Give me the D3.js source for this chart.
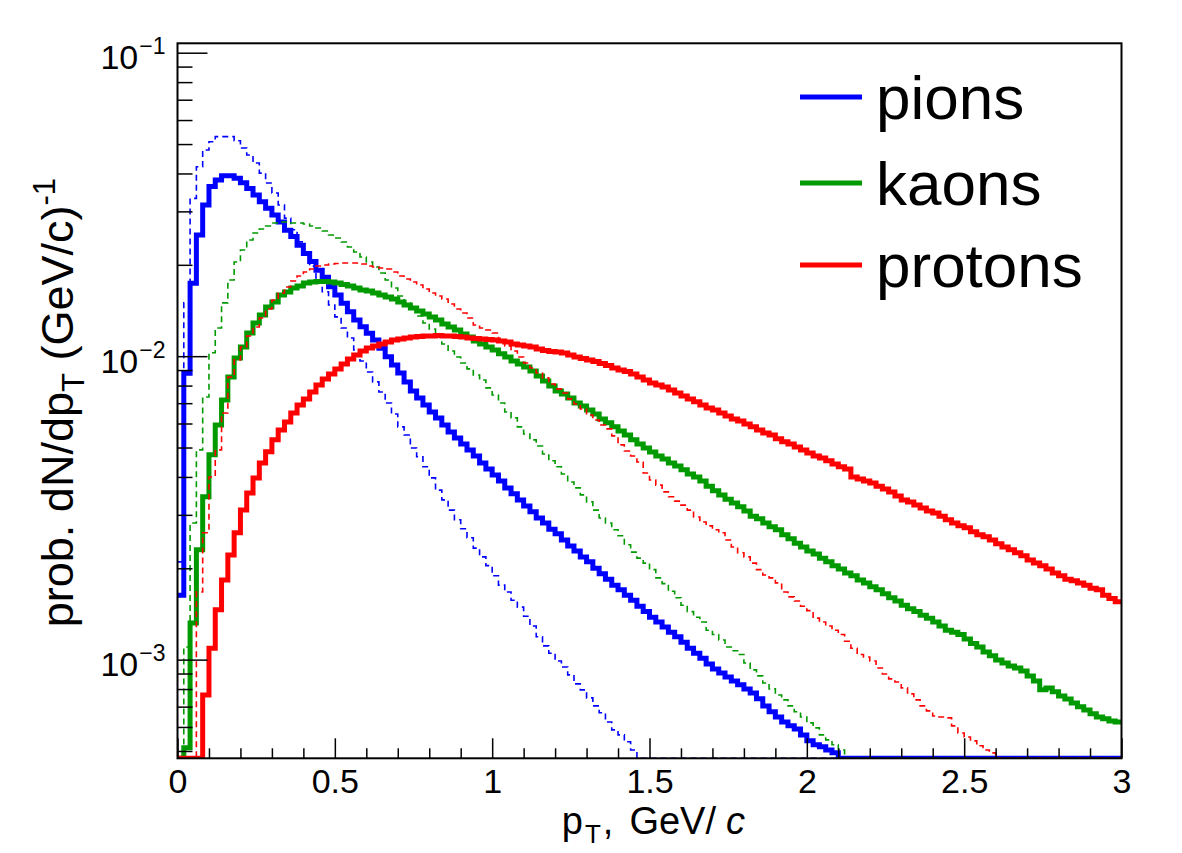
<!DOCTYPE html>
<html><head><meta charset="utf-8">
<script src="https://cdn.jsdelivr.net/npm/d3@7"></script>
<style>
body{margin:0;background:#fff}
svg{display:block}
text{font-family:"Liberation Sans",Arial,Helvetica,sans-serif;fill:#000}
</style>
</head><body>
<svg id="chart" width="1182" height="853"></svg>
<script>
// ---------------- data (histograms, 150 bins of 0.02 GeV/c from 0 to 3) ----------------
const ptRange = [0, 3];
const pionsSolid = [
0.00163,0.00878,0.01739,0.02507,0.0315,0.0362,0.0381,0.0393,0.0393,0.0386,
0.0373,0.0357,0.0340,0.0323,0.0307,0.0292,0.0277,0.0260,0.0248,0.0232,
0.0218,0.0205,0.0192,0.0182,0.01694,0.0159,0.01493,0.01402,0.01315,0.0125,
0.01189,0.0113,0.01062,0.00996,0.00935,0.00880,0.00822,0.00768,0.00728,0.00691,
0.00655,0.00626,0.00593,0.00563,0.00537,0.00514,0.00491,0.00469,0.00445,0.00425,
0.00406,0.00388,0.00368,0.00352,0.00336,0.00321,0.00307,0.00293,0.00282,0.00269,
0.00260,0.00248,0.00237,0.00228,0.00218,0.00210,0.00200,0.00192,0.00184,0.00176,
0.00170,0.00163,0.00157,0.00150,0.00144,0.00138,0.00133,0.00128,0.00123,0.00119,
0.00114,0.00109,0.00105,0.00101,0.000968,0.000932,0.000904,0.000877,0.000851,0.000826,
0.000801,0.000777,0.000743,0.000704,0.000673,0.000647,0.000623,0.000605,0.000591,0.000565,
0.000540,0.000524,0.000516,0.000504,0.000493,0,0,0,0,0,
0,0,0,0,0,0,0,0,0,0,
0,0,0,0,0,0,0,0,0,0,
0,0,0,0,0,0,0,0,0,0,
0,0,0,0,0,0,0,0,0,0
];
const pionsDashed = [
0.0021,0.0150,0.0331,0.0421,0.0478,0.0509,0.0529,0.0529,0.0529,0.0513,
0.0485,0.0460,0.0433,0.0401,0.0372,0.0345,0.0315,0.0285,0.0261,0.0238,
0.0217,0.0198,0.0181,0.0163,0.01475,0.01347,0.01238,0.01148,0.01048,0.00964,
0.00887,0.00823,0.00762,0.00701,0.00645,0.00585,0.00550,0.00498,0.00466,0.00432,
0.00397,0.00362,0.00336,0.00311,0.00289,0.00270,0.00252,0.00233,0.00218,0.00204,
0.00189,0.00176,0.00167,0.00157,0.00149,0.00139,0.00129,0.00119,0.00111,0.00105,
0.00099,0.000946,0.000891,0.000832,0.000795,0.000748,0.000704,0.000668,0.000623,0.000587,
0.000565,0.000536,0.000504,0,0,0,0,0,0,0,
0,0,0,0,0,0,0,0,0,0,
0,0,0,0,0,0,0,0,0,0,
0,0,0,0,0,0,0,0,0,0,
0,0,0,0,0,0,0,0,0,0,
0,0,0,0,0,0,0,0,0,0,
0,0,0,0,0,0,0,0,0,0,
0,0,0,0,0,0,0,0,0,0
];
const kaonsSolid = [
0,0.000512,0.00132,0.00230,0.00344,0.00473,0.00593,0.00717,0.00854,0.00986,
0.01073,0.01192,0.01286,0.01367,0.01453,0.01509,0.01591,0.01628,0.01678,0.01704,
0.01743,0.01756,0.01763,0.01763,0.01756,0.01743,0.01723,0.01704,0.01678,0.01653,
0.01640,0.01615,0.01591,0.01567,0.01543,0.01509,0.01475,0.01442,0.01409,0.01377,
0.01347,0.01316,0.01276,0.01248,0.01219,0.01183,0.01157,0.01122,0.01097,0.01073,
0.01048,0.01018,0.00994,0.00964,0.00943,0.00921,0.00894,0.00860,0.00829,0.00797,
0.00768,0.00751,0.00728,0.00701,0.00685,0.00665,0.00645,0.00621,0.00603,0.00585,
0.00567,0.00550,0.00530,0.00514,0.00498,0.00483,0.00469,0.00458,0.00445,0.00435,
0.00422,0.00409,0.00400,0.00388,0.00373,0.00360,0.00349,0.00338,0.00328,0.00319,
0.00309,0.00297,0.00291,0.00282,0.00274,0.00268,0.00258,0.00250,0.00242,0.00235,
0.00228,0.00223,0.00216,0.00210,0.00204,0.00199,0.00193,0.00189,0.00183,0.00179,
0.00174,0.00170,0.00165,0.00160,0.00156,0.00151,0.00147,0.00144,0.00140,0.00137,
0.00133,0.00129,0.00125,0.00123,0.00121,0.00117,0.00113,0.00110,0.00106,0.00103,
0.000998,0.000975,0.000953,0.000939,0.000918,0.000884,0.000851,0.000795,0.000807,0.000783,
0.000759,0.000742,0.000720,0.000699,0.000683,0.000663,0.000647,0.000638,0.000628,0.000623
];
const kaonsDashed = [
0,0.00110,0.00282,0.00491,0.00734,0.01026,0.01238,0.01498,0.01782,0.02044,
0.02238,0.02414,0.02546,0.02625,0.02686,0.02748,0.02769,0.02769,0.02748,0.02748,
0.02727,0.02686,0.02646,0.02586,0.02508,0.02451,0.02378,0.02290,0.02205,0.02123,
0.02044,0.01968,0.01880,0.01782,0.01678,0.01579,0.01498,0.01431,0.01357,0.01286,
0.01229,0.01165,0.01097,0.01040,0.00994,0.00950,0.00908,0.00867,0.00835,0.00786,
0.00745,0.00701,0.00655,0.00626,0.00585,0.00554,0.00530,0.00506,0.00476,0.00452,
0.00432,0.00409,0.00385,0.00368,0.00349,0.00331,0.00311,0.00293,0.00282,0.00268,
0.00256,0.00239,0.00226,0.00216,0.00208,0.00198,0.00186,0.00178,0.00168,0.00160,
0.00151,0.00144,0.00138,0.00133,0.00125,0.00121,0.00116,0.00110,0.00107,0.00104,
0.000975,0.000925,0.000884,0.000838,0.000801,0.000765,0.000737,0.000704,0.000673,0.000647,
0.000619,0.000596,0.000565,0.000544,0.000524,0.000504,0,0,0,0,
0,0,0,0,0,0,0,0,0,0,
0,0,0,0,0,0,0,0,0,0,
0,0,0,0,0,0,0,0,0,0,
0,0,0,0,0,0,0,0,0,0
];
const protonsSolid = [
0,0,0,0,0.000765,0.00109,0.00146,0.00183,0.00221,0.00262,
0.00311,0.00354,0.00397,0.00445,0.00484,0.00530,0.00571,0.00607,0.00650,0.00691,
0.00723,0.00762,0.00804,0.00841,0.00874,0.00908,0.00943,0.00979,0.01009,0.01040,
0.01064,0.01080,0.01097,0.01114,0.01131,0.01139,0.01148,0.01157,0.01161,0.01166,
0.01166,0.01170,0.01166,0.01166,0.01161,0.01157,0.01148,0.01144,0.01139,0.01135,
0.01131,0.01122,0.01114,0.01097,0.01089,0.01080,0.01072,0.01056,0.01044,0.01036,
0.01032,0.01025,0.01009,0.00994,0.00983,0.00972,0.00961,0.00946,0.00932,0.00914,
0.00901,0.00891,0.00874,0.00854,0.00835,0.00816,0.00804,0.00792,0.00774,0.00756,
0.00739,0.00723,0.00707,0.00691,0.00675,0.00665,0.00650,0.00635,0.00621,0.00612,
0.00598,0.00585,0.00571,0.00558,0.00550,0.00534,0.00522,0.00514,0.00502,0.00491,
0.00480,0.00469,0.00462,0.00452,0.00441,0.00432,0.00425,0.00400,0.00394,0.00388,
0.00382,0.00373,0.00365,0.00357,0.00346,0.00336,0.00331,0.00323,0.00316,0.00309,
0.00304,0.00297,0.00289,0.00282,0.00276,0.00272,0.00264,0.00258,0.00254,0.00248,
0.00241,0.00235,0.00230,0.00225,0.00220,0.00213,0.00208,0.00204,0.00199,0.00193,
0.00189,0.00184,0.00182,0.00179,0.00176,0.00172,0.00170,0.00163,0.00159,0.00155
];
const protonsDashed = [
0,0,0,0.00167,0.00262,0.00400,0.00491,0.00650,0.00854,0.00972,
0.01072,0.01166,0.01248,0.01336,0.01431,0.01532,0.01615,0.01691,0.01769,0.01837,
0.01895,0.01938,0.01983,0.01998,0.02013,0.02020,0.02028,0.02028,0.02028,0.02013,
0.01983,0.01968,0.01953,0.01938,0.01895,0.01837,0.01796,0.01756,0.01717,0.01665,
0.01615,0.01579,0.01543,0.01486,0.01431,0.01388,0.01336,0.01267,0.01238,0.01219,
0.01192,0.01130,0.01080,0.01040,0.00994,0.00950,0.00914,0.00880,0.00848,0.00810,
0.00780,0.00756,0.00723,0.00696,0.00670,0.00640,0.00616,0.00593,0.00576,0.00546,
0.00510,0.00487,0.00469,0.00448,0.00412,0.00391,0.00376,0.00357,0.00344,0.00333,
0.00323,0.00311,0.00295,0.00284,0.00276,0.00268,0.00262,0.00248,0.00235,0.00225,
0.00218,0.00208,0.00198,0.00190,0.00186,0.00179,0.00167,0.00161,0.00156,0.00150,
0.00145,0.00137,0.00133,0.00129,0.00125,0.00121,0.00115,0.00109,0.00104,0.00102,
0.000990,0.000939,0.000897,0.000864,0.000844,0.000807,0.000771,0.000737,0.000704,0.000678,
0.000652,0.000647,0.000643,0.000605,0.000573,0.000556,0.000540,0.000520,0.000504,0.000493,
0,0,0,0,0,0,0,0,0,0,
0,0,0,0,0,0,0,0,0,0
];
const legendLabels = ["pions", "kaons", "protons"];
const xTickValues = [0, 0.5, 1, 1.5, 2, 2.5, 3];
const xTickLabels = ["0", "0.5", "1", "1.5", "2", "2.5", "3"];
const yDecadeExponents = [-1, -2, -3];
const yRange = [4.73e-4, 0.1074];

// ---------------- drawing ----------------
const svg = d3.select("#chart");
const frame = {left: 177.5, right: 1121.5, top: 43.3, bottom: 758.3};
const colors = {pions: "#0000ff", kaons: "#009900", protons: "#ff0000"};

const x = d3.scaleLinear().domain(ptRange).range([frame.left, frame.right]);
const y = d3.scaleLog().domain(yRange).range([frame.bottom, frame.top]);

svg.append("rect").attr("width", 1182).attr("height", 853).attr("fill", "#fff");

svg.append("defs").append("clipPath").attr("id", "plotclip")
  .append("rect").attr("x", frame.left).attr("y", frame.top)
  .attr("width", frame.right - frame.left).attr("height", frame.bottom - frame.top);

function stepPoints(vals) {
  const w = (ptRange[1] - ptRange[0]) / vals.length;
  const pts = [];
  vals.forEach((v, i) => {
    const yy = y(Math.max(v, yRange[0]));
    pts.push([x(ptRange[0] + i * w), yy], [x(ptRange[0] + (i + 1) * w), yy]);
  });
  return pts;
}
const line = d3.line();

const series = [
  {vals: pionsSolid, color: colors.pions, dashed: false},
  {vals: pionsDashed, color: colors.pions, dashed: true},
  {vals: kaonsSolid, color: colors.kaons, dashed: false},
  {vals: kaonsDashed, color: colors.kaons, dashed: true},
  {vals: protonsSolid, color: colors.protons, dashed: false},
  {vals: protonsDashed, color: colors.protons, dashed: true}
];
const g = svg.append("g").attr("clip-path", "url(#plotclip)");
series.forEach(s => {
  g.append("path")
    .attr("d", line(stepPoints(s.vals)))
    .attr("fill", "none")
    .attr("stroke", s.color)
    .attr("stroke-width", s.dashed ? 1.6 : 5)
    .attr("stroke-linejoin", "miter")
    .attr("stroke-dasharray", s.dashed ? "6,4" : null);
});

// x axis (ticks point inward)
const xMinor = d3.range(0, 31).map(i => i / 10).filter(v => !xTickValues.some(t => Math.abs(t - v) < 1e-6));
svg.append("g").attr("transform", `translate(0,${frame.bottom})`)
  .call(d3.axisBottom(x).tickValues(xMinor).tickSize(-10).tickFormat(""))
  .call(a => a.select(".domain").remove())
  .call(a => a.selectAll("line").attr("stroke", "#000").attr("stroke-width", 1.5));
const xAx = svg.append("g").attr("transform", `translate(0,${frame.bottom})`)
  .call(d3.axisBottom(x).tickValues(xTickValues).tickSize(-20).tickPadding(11)
        .tickFormat((d, i) => xTickLabels[i]))
  .call(a => a.select(".domain").remove());
xAx.selectAll("line").attr("stroke", "#000").attr("stroke-width", 1.5);
xAx.selectAll("text").attr("font-size", 34).attr("font-family", '"Liberation Sans",Arial,sans-serif').attr("fill", "#000");

// y axis
const yMajor = yDecadeExponents.map(e => Math.pow(10, e));
const yMinor = [];
[-4, -3, -2, -1].forEach(e => { for (let m = 2; m <= 9; m++) { const v = m * Math.pow(10, e); if (v >= yRange[0] && v <= yRange[1]) yMinor.push(v); } });
svg.append("g").attr("transform", `translate(${frame.left},0)`)
  .call(d3.axisLeft(y).tickValues(yMinor).tickSize(-15).tickFormat(""))
  .call(a => a.select(".domain").remove())
  .call(a => a.selectAll("line").attr("stroke", "#000").attr("stroke-width", 1.5));
const yAx = svg.append("g").attr("transform", `translate(${frame.left},0)`)
  .call(d3.axisLeft(y).tickValues(yMajor).tickSize(-30).tickPadding(12).tickFormat(""))
  .call(a => a.select(".domain").remove());
yAx.selectAll("line").attr("stroke", "#000").attr("stroke-width", 1.5);
yAx.selectAll(".tick text").each(function(d, i) {
  const t = d3.select(this).attr("dy", null).attr("y", 16).attr("font-size", 34).attr("fill", "#000")
    .attr("font-family", '"Liberation Sans",Arial,sans-serif');
  t.append("tspan").text("10");
  t.append("tspan").attr("font-size", 23).attr("dx", 1).attr("dy", -15).text("\u2212" + Math.abs(yDecadeExponents[i]));
});

// frame
svg.append("rect").attr("x", frame.left).attr("y", frame.top)
  .attr("width", frame.right - frame.left).attr("height", frame.bottom - frame.top)
  .attr("fill", "none").attr("stroke", "#000").attr("stroke-width", 2);

// axis titles
const xt = svg.append("text").attr("x", 745).attr("y", 834).attr("text-anchor", "end").attr("font-size", 38);
xt.append("tspan").text("p");
xt.append("tspan").attr("font-size", 26).attr("dy", 9).attr("dx", 2).text("T");
xt.append("tspan").attr("dy", -9).attr("dx", 2).text(",");
xt.append("tspan").attr("dx", 16).text("GeV/");
xt.append("tspan").attr("font-style", "italic").attr("dx", 10).text("c");

const yt = svg.append("text").attr("transform", "translate(73,178) rotate(-90)")
  .attr("text-anchor", "end").attr("font-size", 45);
yt.append("tspan").text("prob. dN/dp");
yt.append("tspan").attr("font-size", 31).attr("dy", 11).text("T");
yt.append("tspan").attr("dy", -11).text(" (GeV/c)");
yt.append("tspan").attr("font-size", 31).attr("dy", -18).text("-1");

// legend
const legendColors = [colors.pions, colors.kaons, colors.protons];
const legendY = [97, 183, 265];
legendLabels.forEach((lab, i) => {
  svg.append("line").attr("x1", 800).attr("x2", 862).attr("y1", legendY[i]).attr("y2", legendY[i])
    .attr("stroke", legendColors[i]).attr("stroke-width", 5);
  svg.append("text").attr("x", 876).attr("y", legendY[i] + 22).attr("font-size", 62).text(lab);
});
</script>
</body></html>
